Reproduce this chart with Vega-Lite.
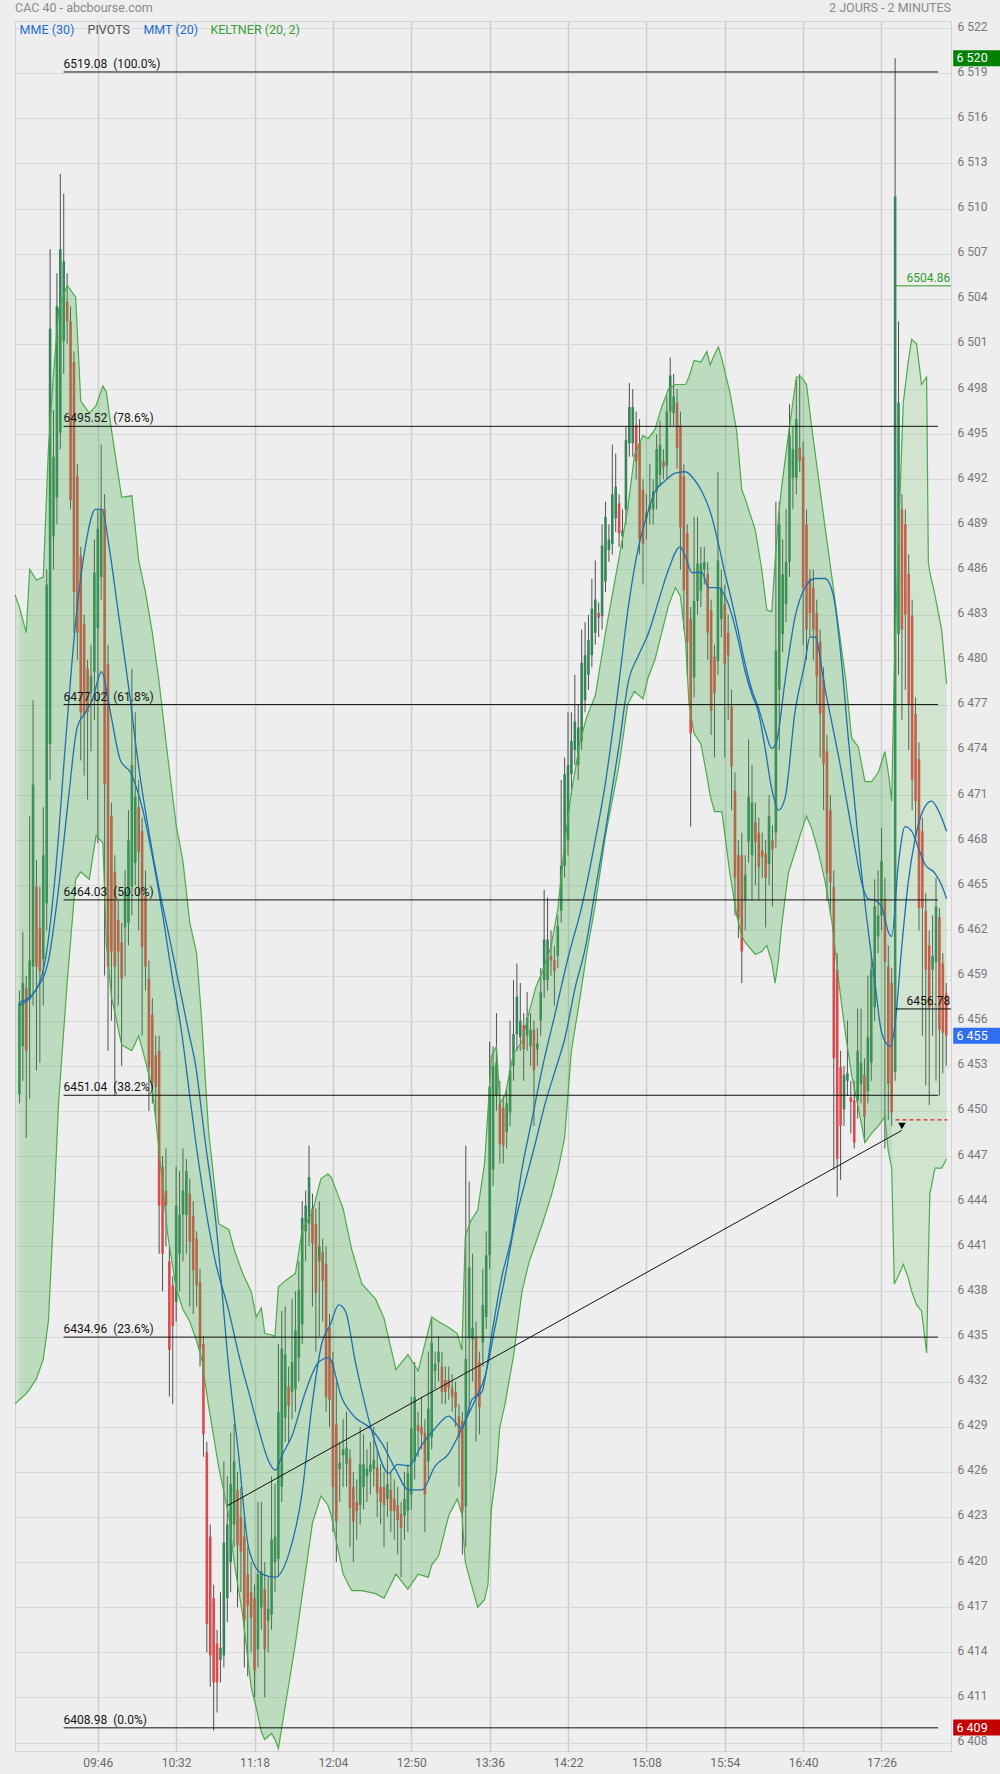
{
"$schema": "https://vega.github.io/schema/vega-lite/v6.json",
"width": 936, "height": 1730,
"autosize": {"type": "none"},
"padding": {"left": 15, "top": 21, "right": 49, "bottom": 23},
"background": "#eeeeee",
"config": {"view": {"stroke": "#d2d2d2", "strokeWidth": 1}, "font": "Roboto", "axis": {"title": null}, "scale": {"continuousPadding": 0}},
"datasets": {
"candles": [
{"t":0,"o":6451.1,"h":6458,"l":6450.5,"c":6457.2},
{"t":2,"o":6454.3,"h":6461.9,"l":6452,"c":6458.5},
{"t":4,"o":6458.2,"h":6459,"l":6448.2,"c":6454},
{"t":6,"o":6457.4,"h":6469.6,"l":6450.8,"c":6460},
{"t":8,"o":6459.6,"h":6477.3,"l":6457,"c":6471.7},
{"t":10,"o":6464.9,"h":6466.7,"l":6452.7,"c":6459.6},
{"t":12,"o":6462.2,"h":6464.9,"l":6453.2,"c":6459.3},
{"t":14,"o":6460.1,"h":6470.2,"l":6457,"c":6467},
{"t":16,"o":6463.8,"h":6486,"l":6462,"c":6485},
{"t":18,"o":6474.4,"h":6507.3,"l":6472,"c":6502},
{"t":20,"o":6488.2,"h":6496.6,"l":6486,"c":6493.5},
{"t":22,"o":6490.8,"h":6505.7,"l":6489,"c":6503.5},
{"t":24,"o":6495.1,"h":6512.3,"l":6494,"c":6507.3},
{"t":26,"o":6501.2,"h":6511,"l":6499,"c":6506.5},
{"t":28,"o":6503.8,"h":6505.7,"l":6501,"c":6502.5},
{"t":30,"o":6502.5,"h":6503.5,"l":6490,"c":6490.6},
{"t":32,"o":6499.8,"h":6500.5,"l":6481.8,"c":6484.5},
{"t":34,"o":6492.2,"h":6493,"l":6480,"c":6481.8},
{"t":36,"o":6486.9,"h":6487.5,"l":6473.3,"c":6476.5},
{"t":38,"o":6482.4,"h":6483,"l":6472.3,"c":6476.3},
{"t":40,"o":6479.4,"h":6480,"l":6470.7,"c":6476.5},
{"t":42,"o":6477.8,"h":6481,"l":6473.9,"c":6478.9},
{"t":44,"o":6479.2,"h":6488,"l":6476,"c":6485.8},
{"t":46,"o":6482.1,"h":6490,"l":6467.8,"c":6488.7},
{"t":48,"o":6485.5,"h":6494.3,"l":6484,"c":6490},
{"t":50,"o":6490,"h":6491,"l":6459,"c":6471.7},
{"t":52,"o":6479.7,"h":6481,"l":6454,"c":6459.6},
{"t":54,"o":6469.6,"h":6470.5,"l":6456,"c":6460.6},
{"t":56,"o":6465.9,"h":6467,"l":6451,"c":6459.6},
{"t":58,"o":6462.7,"h":6464,"l":6457,"c":6460.6},
{"t":60,"o":6461.2,"h":6462.5,"l":6453,"c":6458.8},
{"t":62,"o":6462.2,"h":6466,"l":6459,"c":6464.6},
{"t":64,"o":6462.5,"h":6470,"l":6461,"c":6468},
{"t":66,"o":6464.9,"h":6479.4,"l":6463,"c":6473},
{"t":68,"o":6466.5,"h":6476.5,"l":6465,"c":6470.9},
{"t":70,"o":6470.2,"h":6472,"l":6462,"c":6467.2},
{"t":72,"o":6468.6,"h":6469.5,"l":6455,"c":6460.9},
{"t":74,"o":6464.3,"h":6466,"l":6458,"c":6459.6},
{"t":76,"o":6458.8,"h":6460,"l":6450,"c":6452.9},
{"t":78,"o":6456.4,"h":6457.5,"l":6450.5,"c":6451.9},
{"t":80,"o":6453.7,"h":6455,"l":6449.5,"c":6451.6},
{"t":82,"o":6454,"h":6455,"l":6440.5,"c":6443.7},
{"t":84,"o":6446.3,"h":6447,"l":6438,"c":6440.5},
{"t":86,"o":6444.7,"h":6447.5,"l":6441,"c":6443.7},
{"t":88,"o":6440,"h":6441,"l":6431,"c":6434.1},
{"t":90,"o":6438.4,"h":6439,"l":6430.5,"c":6435.7},
{"t":92,"o":6437.3,"h":6446.3,"l":6436,"c":6443.7},
{"t":94,"o":6440.5,"h":6446,"l":6438,"c":6443.1},
{"t":96,"o":6443.1,"h":6447.5,"l":6440,"c":6444.7},
{"t":98,"o":6443.1,"h":6446.8,"l":6440.5,"c":6446},
{"t":100,"o":6444.5,"h":6445.5,"l":6437,"c":6441.3},
{"t":102,"o":6443,"h":6444,"l":6436.5,"c":6439.4},
{"t":104,"o":6441.5,"h":6442,"l":6437,"c":6438.4},
{"t":106,"o":6438.6,"h":6439.5,"l":6433,"c":6434.2},
{"t":108,"o":6434.5,"h":6435,"l":6427,"c":6428.5},
{"t":110,"o":6427.3,"h":6428,"l":6414,"c":6415.9},
{"t":112,"o":6421.7,"h":6422.5,"l":6411.7,"c":6413.8},
{"t":114,"o":6417.6,"h":6418.5,"l":6408.8,"c":6412},
{"t":116,"o":6414.6,"h":6415.5,"l":6410,"c":6412},
{"t":118,"o":6413.5,"h":6418,"l":6412,"c":6414.3},
{"t":120,"o":6413.8,"h":6426.7,"l":6413,"c":6421.3},
{"t":122,"o":6417.6,"h":6425.7,"l":6416,"c":6422.5},
{"t":124,"o":6420,"h":6428.6,"l":6418,"c":6425.2},
{"t":126,"o":6422.5,"h":6429.2,"l":6421,"c":6426.7},
{"t":128,"o":6424.8,"h":6426,"l":6417,"c":6421.1},
{"t":130,"o":6423,"h":6425,"l":6418,"c":6420.7},
{"t":132,"o":6421.7,"h":6423,"l":6413,"c":6416.1},
{"t":134,"o":6419.2,"h":6421,"l":6412.4,"c":6417.1},
{"t":136,"o":6418,"h":6420,"l":6414,"c":6416.3},
{"t":138,"o":6417.6,"h":6418.5,"l":6411,"c":6412.8},
{"t":140,"o":6414.2,"h":6424,"l":6413,"c":6419.2},
{"t":142,"o":6417,"h":6424,"l":6415.5,"c":6419.4},
{"t":144,"o":6418.2,"h":6420,"l":6411,"c":6414.2},
{"t":146,"o":6416.1,"h":6419,"l":6414,"c":6416.9},
{"t":148,"o":6416.5,"h":6425.7,"l":6415.5,"c":6421.5},
{"t":150,"o":6420,"h":6425.2,"l":6418,"c":6421.7},
{"t":152,"o":6420.2,"h":6434.5,"l":6419,"c":6430},
{"t":154,"o":6425,"h":6436.7,"l":6424,"c":6434.2},
{"t":156,"o":6429.6,"h":6437,"l":6428,"c":6433.8},
{"t":158,"o":6431.7,"h":6433,"l":6428,"c":6430.4},
{"t":160,"o":6431.3,"h":6437.5,"l":6429.5,"c":6433.3},
{"t":162,"o":6431.5,"h":6438,"l":6430,"c":6435.4},
{"t":164,"o":6433.6,"h":6440,"l":6432,"c":6438.1},
{"t":166,"o":6435.8,"h":6444,"l":6434.5,"c":6442.9},
{"t":168,"o":6442,"h":6444.7,"l":6440,"c":6443.7},
{"t":170,"o":6442.5,"h":6447.7,"l":6441,"c":6445.6},
{"t":172,"o":6443.5,"h":6444.5,"l":6437,"c":6441.2},
{"t":174,"o":6442.5,"h":6443.5,"l":6434,"c":6437.9},
{"t":176,"o":6440,"h":6444,"l":6435,"c":6441},
{"t":178,"o":6440.6,"h":6441.5,"l":6436,"c":6438.7},
{"t":180,"o":6439.8,"h":6441,"l":6430,"c":6431},
{"t":182,"o":6435.6,"h":6436.5,"l":6429,"c":6430.8},
{"t":184,"o":6433.3,"h":6434,"l":6422,"c":6425},
{"t":186,"o":6429.2,"h":6432,"l":6420,"c":6422.7},
{"t":188,"o":6426.2,"h":6428,"l":6424,"c":6426.6},
{"t":190,"o":6427.1,"h":6429.5,"l":6425,"c":6427.5},
{"t":192,"o":6426.5,"h":6430,"l":6425,"c":6427.6},
{"t":194,"o":6426.9,"h":6427.5,"l":6421,"c":6423.6},
{"t":196,"o":6425,"h":6426,"l":6420,"c":6422.7},
{"t":198,"o":6424,"h":6425.5,"l":6421.5,"c":6423.4},
{"t":200,"o":6423.8,"h":6429,"l":6422.5,"c":6426.5},
{"t":202,"o":6425,"h":6428.5,"l":6423.5,"c":6426.5},
{"t":204,"o":6425.7,"h":6427.5,"l":6424,"c":6426.2},
{"t":206,"o":6426,"h":6428,"l":6424.5,"c":6426.5},
{"t":208,"o":6426.2,"h":6429,"l":6425,"c":6426.8},
{"t":210,"o":6426.3,"h":6427.5,"l":6423,"c":6424.6},
{"t":212,"o":6425,"h":6426.5,"l":6422.5,"c":6424},
{"t":214,"o":6425,"h":6426,"l":6421,"c":6423.8},
{"t":216,"o":6424.2,"h":6428,"l":6423,"c":6425.2},
{"t":218,"o":6424.8,"h":6426,"l":6422,"c":6423.4},
{"t":220,"o":6424.2,"h":6425.5,"l":6421.5,"c":6423.4},
{"t":222,"o":6423.8,"h":6425,"l":6420.5,"c":6422.8},
{"t":224,"o":6423.2,"h":6424,"l":6419,"c":6422.3},
{"t":226,"o":6423.1,"h":6426,"l":6421.5,"c":6424.2},
{"t":228,"o":6423.4,"h":6426.5,"l":6422,"c":6425.9},
{"t":230,"o":6424.5,"h":6431,"l":6423.5,"c":6428.9},
{"t":232,"o":6426.7,"h":6433.3,"l":6425.5,"c":6431},
{"t":234,"o":6429.1,"h":6430,"l":6427,"c":6428.7},
{"t":236,"o":6429,"h":6431,"l":6427.5,"c":6428.5},
{"t":238,"o":6428.6,"h":6429.5,"l":6422,"c":6424.5},
{"t":240,"o":6426.7,"h":6434,"l":6425.5,"c":6430.2},
{"t":242,"o":6428.3,"h":6436.3,"l":6427.5,"c":6434.6},
{"t":244,"o":6432.7,"h":6434,"l":6431.5,"c":6433.2},
{"t":246,"o":6433.3,"h":6435,"l":6432,"c":6434},
{"t":248,"o":6433,"h":6434,"l":6430.5,"c":6431.3},
{"t":250,"o":6432.1,"h":6433,"l":6430.5,"c":6431.3},
{"t":252,"o":6432.1,"h":6433,"l":6430.8,"c":6431.6},
{"t":254,"o":6431.6,"h":6432.5,"l":6430,"c":6431},
{"t":256,"o":6431.3,"h":6432,"l":6429,"c":6430.3},
{"t":258,"o":6429.7,"h":6430.5,"l":6425,"c":6428.3},
{"t":260,"o":6429.4,"h":6430,"l":6420.5,"c":6423.4},
{"t":262,"o":6423.7,"h":6447.7,"l":6421,"c":6433.5},
{"t":264,"o":6434.9,"h":6445.3,"l":6430,"c":6439.6},
{"t":266,"o":6434.8,"h":6440.5,"l":6432,"c":6435.6},
{"t":268,"o":6434.9,"h":6436,"l":6428,"c":6431},
{"t":270,"o":6433.3,"h":6434,"l":6428.5,"c":6430.3},
{"t":272,"o":6434.6,"h":6439.5,"l":6433,"c":6437.1},
{"t":274,"o":6436.3,"h":6442,"l":6435.5,"c":6440.4},
{"t":276,"o":6440.4,"h":6454.6,"l":6439.5,"c":6451.6},
{"t":278,"o":6446.1,"h":6454.3,"l":6445,"c":6453},
{"t":280,"o":6451,"h":6456.5,"l":6450,"c":6453.2},
{"t":282,"o":6450.5,"h":6452,"l":6446.5,"c":6447.8},
{"t":284,"o":6450.2,"h":6451,"l":6446.5,"c":6447.7},
{"t":286,"o":6448.6,"h":6451.5,"l":6447.5,"c":6450.5},
{"t":288,"o":6449.9,"h":6456,"l":6449,"c":6452.7},
{"t":290,"o":6453,"h":6458.7,"l":6452,"c":6455.1},
{"t":292,"o":6455.1,"h":6459.8,"l":6454,"c":6457.6},
{"t":294,"o":6454.9,"h":6458.5,"l":6454,"c":6456},
{"t":296,"o":6455.7,"h":6456.5,"l":6452,"c":6454.1},
{"t":298,"o":6455,"h":6457.9,"l":6454,"c":6456.2},
{"t":300,"o":6454.3,"h":6456.5,"l":6453,"c":6455.4},
{"t":302,"o":6455.4,"h":6456,"l":6449,"c":6452.7},
{"t":304,"o":6454.1,"h":6455.5,"l":6453,"c":6454.5},
{"t":306,"o":6456,"h":6459.5,"l":6455,"c":6457.9},
{"t":308,"o":6458.7,"h":6464.7,"l":6457.5,"c":6461.4},
{"t":310,"o":6458.7,"h":6464.2,"l":6458,"c":6461.4},
{"t":312,"o":6460.3,"h":6462,"l":6459,"c":6460},
{"t":314,"o":6460,"h":6461,"l":6457,"c":6459.3},
{"t":316,"o":6460.3,"h":6463,"l":6459.5,"c":6462.3},
{"t":318,"o":6463.3,"h":6472,"l":6462.5,"c":6466.3},
{"t":320,"o":6466.3,"h":6473.5,"l":6465.5,"c":6472.4},
{"t":322,"o":6468,"h":6476.5,"l":6467,"c":6473},
{"t":324,"o":6472.4,"h":6476.5,"l":6471,"c":6474.6},
{"t":326,"o":6474,"h":6479,"l":6473,"c":6475.9},
{"t":328,"o":6473,"h":6477,"l":6472,"c":6475.5},
{"t":330,"o":6474.6,"h":6482,"l":6474,"c":6479.8},
{"t":332,"o":6477.3,"h":6482.5,"l":6476.5,"c":6480.3},
{"t":334,"o":6479,"h":6483,"l":6478,"c":6481.3},
{"t":336,"o":6480.3,"h":6485.4,"l":6479.5,"c":6483.4},
{"t":338,"o":6481.8,"h":6486.6,"l":6481,"c":6484},
{"t":340,"o":6483.1,"h":6483.8,"l":6481.5,"c":6482.8},
{"t":342,"o":6482.9,"h":6489,"l":6482,"c":6487.6},
{"t":344,"o":6485.2,"h":6490.5,"l":6484.5,"c":6489.5},
{"t":346,"o":6487.3,"h":6489,"l":6486.5,"c":6488},
{"t":348,"o":6487.7,"h":6494.3,"l":6487,"c":6491},
{"t":350,"o":6489.4,"h":6493.7,"l":6488.5,"c":6491.5},
{"t":352,"o":6490.4,"h":6491,"l":6487.5,"c":6488.4},
{"t":354,"o":6488.2,"h":6490,"l":6487.4,"c":6488.6},
{"t":356,"o":6490,"h":6495.5,"l":6489,"c":6494.6},
{"t":358,"o":6494.4,"h":6498.4,"l":6493.5,"c":6496.8},
{"t":360,"o":6494.4,"h":6498,"l":6493.5,"c":6496.8},
{"t":362,"o":6495.6,"h":6496.5,"l":6492,"c":6493.2},
{"t":364,"o":6494.4,"h":6496,"l":6487,"c":6488},
{"t":366,"o":6491.3,"h":6492,"l":6485,"c":6487.7},
{"t":368,"o":6489.4,"h":6491,"l":6488,"c":6489.8},
{"t":370,"o":6490,"h":6493,"l":6489,"c":6490.3},
{"t":372,"o":6490,"h":6492,"l":6489,"c":6491.2},
{"t":374,"o":6491.2,"h":6495,"l":6490,"c":6494},
{"t":376,"o":6492.3,"h":6495.9,"l":6491.5,"c":6494.3},
{"t":378,"o":6493.2,"h":6494,"l":6492,"c":6492.8},
{"t":380,"o":6492.9,"h":6497.5,"l":6492,"c":6496.5},
{"t":382,"o":6496.5,"h":6500.1,"l":6495.5,"c":6498.9},
{"t":384,"o":6496.4,"h":6499,"l":6495.5,"c":6497.5},
{"t":386,"o":6497.1,"h":6498,"l":6492.7,"c":6494.1},
{"t":388,"o":6495.6,"h":6496.5,"l":6486,"c":6488.8},
{"t":390,"o":6492.2,"h":6493,"l":6482,"c":6484.6},
{"t":392,"o":6488.4,"h":6489,"l":6479,"c":6481.2},
{"t":394,"o":6482.7,"h":6483.5,"l":6468.9,"c":6475.1},
{"t":396,"o":6478.8,"h":6489.5,"l":6477.5,"c":6483.9},
{"t":398,"o":6483.9,"h":6489.5,"l":6483,"c":6486.4},
{"t":400,"o":6484.6,"h":6487.5,"l":6483.5,"c":6486.4},
{"t":402,"o":6486,"h":6487.5,"l":6485,"c":6486.5},
{"t":404,"o":6485.7,"h":6486.5,"l":6480,"c":6481.8},
{"t":406,"o":6483.3,"h":6484,"l":6475,"c":6476.6},
{"t":408,"o":6480.2,"h":6481,"l":6473.5,"c":6477.8},
{"t":410,"o":6479.9,"h":6492.5,"l":6479,"c":6486.6},
{"t":412,"o":6482.7,"h":6486,"l":6481.5,"c":6484.8},
{"t":414,"o":6483.7,"h":6485,"l":6473.5,"c":6479.7},
{"t":416,"o":6481.8,"h":6483,"l":6476,"c":6480.3},
{"t":418,"o":6476.9,"h":6478,"l":6470,"c":6472.9},
{"t":420,"o":6471.3,"h":6472.5,"l":6463,"c":6465.5},
{"t":422,"o":6467,"h":6468,"l":6461.5,"c":6462.8},
{"t":424,"o":6467,"h":6468.5,"l":6458.5,"c":6460.6},
{"t":426,"o":6464,"h":6467,"l":6462,"c":6465.7},
{"t":428,"o":6467.9,"h":6474.7,"l":6466.5,"c":6470.9},
{"t":430,"o":6467,"h":6473,"l":6464,"c":6470.5},
{"t":432,"o":6469.2,"h":6470.5,"l":6465,"c":6467.9},
{"t":434,"o":6468.5,"h":6469.5,"l":6464,"c":6466.2},
{"t":436,"o":6467.3,"h":6468.5,"l":6465.5,"c":6466.9},
{"t":438,"o":6467.1,"h":6468,"l":6462.2,"c":6465.5},
{"t":440,"o":6466.4,"h":6471,"l":6465,"c":6469.6},
{"t":442,"o":6468,"h":6469,"l":6463.6,"c":6467.4},
{"t":444,"o":6468.5,"h":6490.5,"l":6467.5,"c":6480.6},
{"t":446,"o":6478,"h":6490.5,"l":6474,"c":6489},
{"t":448,"o":6481.7,"h":6488,"l":6480.5,"c":6485.7},
{"t":450,"o":6483.7,"h":6490,"l":6482.5,"c":6486.5},
{"t":452,"o":6486.5,"h":6497,"l":6485.5,"c":6494.9},
{"t":454,"o":6492.1,"h":6495.5,"l":6490,"c":6494},
{"t":456,"o":6492.1,"h":6498.6,"l":6491,"c":6496},
{"t":458,"o":6494.1,"h":6499,"l":6492.5,"c":6493.2},
{"t":460,"o":6493.5,"h":6494.5,"l":6481,"c":6484.8},
{"t":462,"o":6489,"h":6490,"l":6480,"c":6482},
{"t":464,"o":6485.4,"h":6486,"l":6481.5,"c":6483.1},
{"t":466,"o":6484.8,"h":6486,"l":6480,"c":6482},
{"t":468,"o":6483.1,"h":6484,"l":6477,"c":6478.9},
{"t":470,"o":6481.2,"h":6482,"l":6473.5,"c":6476.4},
{"t":472,"o":6478.7,"h":6479.5,"l":6470,"c":6473.1},
{"t":474,"o":6473.9,"h":6475,"l":6464,"c":6465.8},
{"t":476,"o":6470,"h":6471,"l":6463,"c":6465.2},
{"t":478,"o":6464.9,"h":6466,"l":6446.1,"c":6453.5},
{"t":480,"o":6459.4,"h":6460.5,"l":6444.3,"c":6446.8},
{"t":482,"o":6452.9,"h":6454,"l":6445.4,"c":6449},
{"t":484,"o":6450.1,"h":6453,"l":6449,"c":6452.4},
{"t":486,"o":6452,"h":6456,"l":6451,"c":6452.5},
{"t":488,"o":6450.9,"h":6452,"l":6448.5,"c":6450.6},
{"t":490,"o":6450.7,"h":6452,"l":6447.5,"c":6447.9},
{"t":492,"o":6450.7,"h":6456.8,"l":6449.5,"c":6454},
{"t":494,"o":6451.8,"h":6456.8,"l":6450.5,"c":6453.2},
{"t":496,"o":6452.4,"h":6453.5,"l":6447.9,"c":6449.6},
{"t":498,"o":6451.3,"h":6459,"l":6450.5,"c":6454.9},
{"t":500,"o":6453.2,"h":6460.5,"l":6452,"c":6459.4},
{"t":502,"o":6456.9,"h":6465.4,"l":6456,"c":6463.6},
{"t":504,"o":6461.6,"h":6466,"l":6460.5,"c":6463},
{"t":506,"o":6463,"h":6468.8,"l":6462,"c":6466.6},
{"t":508,"o":6464.1,"h":6465.5,"l":6447.5,"c":6459.9},
{"t":510,"o":6459.6,"h":6461,"l":6449.4,"c":6451.8},
{"t":512,"o":6458.5,"h":6459.5,"l":6449,"c":6449.9},
{"t":514,"o":6452.6,"h":6520,"l":6452,"c":6510.8},
{"t":516,"o":6481.7,"h":6502.5,"l":6479,"c":6497.1},
{"t":518,"o":6490,"h":6491,"l":6476,"c":6482},
{"t":520,"o":6489,"h":6490,"l":6478,"c":6483},
{"t":522,"o":6485.7,"h":6487,"l":6474,"c":6477},
{"t":524,"o":6482.9,"h":6484,"l":6470,"c":6472},
{"t":526,"o":6476.4,"h":6477.5,"l":6468,"c":6470.6},
{"t":528,"o":6473.4,"h":6474.5,"l":6462,"c":6463.5},
{"t":530,"o":6468.6,"h":6469.5,"l":6455,"c":6463.5},
{"t":532,"o":6463.3,"h":6464.5,"l":6451.7,"c":6459.4},
{"t":534,"o":6461,"h":6462,"l":6450.4,"c":6456.9},
{"t":536,"o":6459.4,"h":6463,"l":6455,"c":6460.3},
{"t":538,"o":6459.9,"h":6465.5,"l":6452,"c":6463.6},
{"t":540,"o":6462.9,"h":6463.5,"l":6451,"c":6455.4},
{"t":542,"o":6459.8,"h":6460.5,"l":6452.5,"c":6455.2},
{"t":544,"o":6457.8,"h":6458.5,"l":6453,"c":6455}
],
"band": [
{"t":-2.6,"up":6484.3,"lo":6430.5,"seg":"a"},{"t":0,"up":6483.5,"lo":6430.8,"seg":"a"},
{"t":0,"up":6483.5,"lo":6430.8,"seg":"d"},{"t":4,"up":6481.8,"lo":6431.2,"seg":"d"},{"t":6,"up":6486,"lo":6431.5,"seg":"d"},{"t":10,"up":6485.3,"lo":6432.2,"seg":"d"},{"t":14,"up":6485.5,"lo":6433.5,"seg":"d"},{"t":17,"up":6494,"lo":6436,"seg":"d"},{"t":20,"up":6499,"lo":6443,"seg":"d"},{"t":23,"up":6503.3,"lo":6450.6,"seg":"d"},{"t":28,"up":6504.9,"lo":6458.5,"seg":"d"},{"t":33,"up":6504.1,"lo":6465.4,"seg":"d"},{"t":36,"up":6497.2,"lo":6465.9,"seg":"d"},{"t":41,"up":6496.4,"lo":6465.4,"seg":"d"},{"t":45,"up":6496.9,"lo":6468.3,"seg":"d"},{"t":49,"up":6498.2,"lo":6467.8,"seg":"d"},{"t":51,"up":6497.8,"lo":6461.2,"seg":"d"},{"t":54,"up":6495.3,"lo":6457.6,"seg":"d"},{"t":60,"up":6490.8,"lo":6454.4,"seg":"d"},{"t":66,"up":6490.9,"lo":6454,"seg":"d"},{"t":70,"up":6486.6,"lo":6455,"seg":"d"},{"t":74,"up":6484.5,"lo":6453.3,"seg":"d"},{"t":78,"up":6481.8,"lo":6451.5,"seg":"d"},{"t":82,"up":6478.5,"lo":6447.3,"seg":"d"},{"t":87,"up":6473.6,"lo":6441.8,"seg":"d"},{"t":92,"up":6469,"lo":6438.2,"seg":"d"},{"t":96,"up":6466.6,"lo":6436.8,"seg":"d"},{"t":100,"up":6462.5,"lo":6436,"seg":"d"},{"t":104,"up":6460.5,"lo":6434.7,"seg":"d"},{"t":107,"up":6456,"lo":6433.5,"seg":"d"},{"t":111,"up":6448.7,"lo":6430.4,"seg":"d"},{"t":117,"up":6442.5,"lo":6426.3,"seg":"d"},{"t":123,"up":6442.1,"lo":6423,"seg":"d"},{"t":126,"up":6440.8,"lo":6420,"seg":"d"},{"t":131,"up":6439.2,"lo":6416.5,"seg":"d"},{"t":136,"up":6438,"lo":6411.7,"seg":"d"},{"t":139,"up":6436.3,"lo":6410.3,"seg":"d"},{"t":142,"up":6436.9,"lo":6408.7,"seg":"d"},{"t":144,"up":6435.2,"lo":6408.2,"seg":"d"},{"t":148,"up":6435.1,"lo":6408.6,"seg":"d"},{"t":150,"up":6435,"lo":6408.2,"seg":"d"},{"t":152,"up":6438.3,"lo":6407.6,"seg":"d"},{"t":156,"up":6438.7,"lo":6410.4,"seg":"d"},{"t":162,"up":6439.2,"lo":6414.6,"seg":"d"},{"t":166,"up":6442.1,"lo":6417.8,"seg":"d"},{"t":172,"up":6443.3,"lo":6422.6,"seg":"d"},{"t":177,"up":6445.5,"lo":6424.4,"seg":"d"},{"t":181,"up":6445.8,"lo":6423.8,"seg":"d"},{"t":183,"up":6445.6,"lo":6423.1,"seg":"d"},{"t":186,"up":6444.7,"lo":6421.4,"seg":"d"},{"t":190,"up":6443.5,"lo":6419.2,"seg":"d"},{"t":195,"up":6440.8,"lo":6418.1,"seg":"d"},{"t":201,"up":6438.5,"lo":6418.1,"seg":"d"},{"t":209,"up":6437.5,"lo":6417.9,"seg":"d"},{"t":214,"up":6436.2,"lo":6417.6,"seg":"d"},{"t":221,"up":6432.8,"lo":6419.2,"seg":"d"},{"t":228,"up":6433.8,"lo":6418.2,"seg":"d"},{"t":234,"up":6432.7,"lo":6419.2,"seg":"d"},{"t":240,"up":6435.4,"lo":6419,"seg":"d"},{"t":242,"up":6436.3,"lo":6419.8,"seg":"d"},{"t":246,"up":6436,"lo":6420.4,"seg":"d"},{"t":252,"up":6435.6,"lo":6423.1,"seg":"d"},{"t":257,"up":6435.2,"lo":6424.2,"seg":"d"},{"t":259.7,"up":6434.1,"lo":6423.2,"seg":"d"},{"t":261.7,"up":6441.7,"lo":6420,"seg":"d"},{"t":265,"up":6442.7,"lo":6418.6,"seg":"d"},{"t":269,"up":6443.4,"lo":6417,"seg":"d"},{"t":273,"up":6446.5,"lo":6417.5,"seg":"d"},{"t":275,"up":6450,"lo":6418.5,"seg":"d"},{"t":277,"up":6453.6,"lo":6423.5,"seg":"d"},{"t":280,"up":6454.3,"lo":6426,"seg":"d"},{"t":282,"up":6450.5,"lo":6429,"seg":"d"},{"t":285,"up":6451,"lo":6430.5,"seg":"d"},{"t":290,"up":6453.8,"lo":6433.7,"seg":"d"},{"t":295,"up":6454.6,"lo":6438,"seg":"d"},{"t":299,"up":6456.5,"lo":6439.9,"seg":"d"},{"t":303,"up":6458.2,"lo":6441.2,"seg":"d"},{"t":307,"up":6459.3,"lo":6442.5,"seg":"d"},{"t":312,"up":6460.9,"lo":6444.3,"seg":"d"},{"t":316,"up":6463.4,"lo":6446,"seg":"d"},{"t":320,"up":6467.8,"lo":6448.2,"seg":"d"},{"t":324,"up":6471.2,"lo":6454,"seg":"d"},{"t":329,"up":6474.5,"lo":6457.5,"seg":"d"},{"t":333,"up":6476.2,"lo":6460.5,"seg":"d"},{"t":338,"up":6477.6,"lo":6463.7,"seg":"d"},{"t":344,"up":6481.8,"lo":6468.3,"seg":"d"},{"t":352,"up":6486.8,"lo":6473,"seg":"d"},{"t":357,"up":6490,"lo":6477,"seg":"d"},{"t":361,"up":6493.6,"lo":6477.9,"seg":"d"},{"t":366,"up":6494.9,"lo":6477.4,"seg":"d"},{"t":369,"up":6494.7,"lo":6478.8,"seg":"d"},{"t":373,"up":6495.3,"lo":6480,"seg":"d"},{"t":377,"up":6496.8,"lo":6481.8,"seg":"d"},{"t":381,"up":6498,"lo":6483.6,"seg":"d"},{"t":385,"up":6498.3,"lo":6484.8,"seg":"d"},{"t":388,"up":6498.3,"lo":6484.2,"seg":"d"},{"t":391,"up":6498.3,"lo":6481.2,"seg":"d"},{"t":393,"up":6498.8,"lo":6477.1,"seg":"d"},{"t":396,"up":6499.9,"lo":6475.1,"seg":"d"},{"t":400,"up":6499.8,"lo":6474.4,"seg":"d"},{"t":403.5,"up":6500.5,"lo":6472.3,"seg":"d"},{"t":405.4,"up":6499.6,"lo":6471,"seg":"d"},{"t":408,"up":6500.3,"lo":6469.9,"seg":"d"},{"t":410.3,"up":6500.8,"lo":6469.9,"seg":"d"},{"t":412.3,"up":6500,"lo":6469.9,"seg":"d"},{"t":417,"up":6497.8,"lo":6465.8,"seg":"d"},{"t":421,"up":6495.2,"lo":6463,"seg":"d"},{"t":424,"up":6491.3,"lo":6461.6,"seg":"d"},{"t":426,"up":6490.7,"lo":6461.2,"seg":"d"},{"t":432,"up":6488.6,"lo":6460.4,"seg":"d"},{"t":435.7,"up":6486,"lo":6460.6,"seg":"d"},{"t":438.7,"up":6483.3,"lo":6461,"seg":"d"},{"t":441.6,"up":6483.2,"lo":6459.9,"seg":"d"},{"t":443.5,"up":6486.5,"lo":6458.5,"seg":"d"},{"t":445.5,"up":6489.5,"lo":6460,"seg":"d"},{"t":447.4,"up":6491.5,"lo":6462.3,"seg":"d"},{"t":451.3,"up":6494.9,"lo":6465.8,"seg":"d"},{"t":456,"up":6498.8,"lo":6467.5,"seg":"d"},{"t":459,"up":6498.8,"lo":6468.6,"seg":"d"},{"t":462,"up":6498.3,"lo":6469.6,"seg":"d"},{"t":465,"up":6495.5,"lo":6468.8,"seg":"d"},{"t":469,"up":6492.1,"lo":6467.2,"seg":"d"},{"t":473,"up":6488.7,"lo":6465.2,"seg":"d"},{"t":477,"up":6485.4,"lo":6462.5,"seg":"d"},{"t":481,"up":6482,"lo":6458.5,"seg":"d"},{"t":485,"up":6478.7,"lo":6455,"seg":"d"},{"t":488.5,"up":6474.8,"lo":6452.4,"seg":"d"},{"t":492.4,"up":6474.2,"lo":6450.2,"seg":"d"},{"t":496.3,"up":6471.9,"lo":6447.9,"seg":"d"},{"t":500.2,"up":6471.9,"lo":6448.5,"seg":"d"},{"t":504.1,"up":6472.5,"lo":6449,"seg":"d"},{"t":508,"up":6473.9,"lo":6449.6,"seg":"d"},{"t":510,"up":6472.5,"lo":6447.3,"seg":"d"},{"t":512,"up":6470.6,"lo":6446.2,"seg":"d"},
{"t":512,"up":6470.6,"lo":6446.2,"seg":"b"},{"t":513.5,"up":6479.2,"lo":6438.5,"seg":"b"},{"t":515.8,"up":6487.6,"lo":6439,"seg":"b"},{"t":518.8,"up":6497.1,"lo":6439.8,"seg":"b"},{"t":521.7,"up":6499.8,"lo":6438.9,"seg":"b"},{"t":523.7,"up":6501.3,"lo":6438,"seg":"b"},{"t":526.6,"up":6501,"lo":6437.1,"seg":"b"},{"t":529.5,"up":6498.3,"lo":6436.7,"seg":"b"},{"t":532.5,"up":6498.8,"lo":6433.9,"seg":"b"},{"t":533.5,"up":6486.5,"lo":6440,"seg":"b"},{"t":534.4,"up":6485.8,"lo":6444.5,"seg":"b"},{"t":537.4,"up":6484.3,"lo":6446.2,"seg":"b"},{"t":541.3,"up":6482,"lo":6446.2,"seg":"b"},{"t":544.2,"up":6478.4,"lo":6446.8,"seg":"b"}
],
"ma": [
{"t":0,"v":6457.2,"s":"MME"},{"t":9.4,"v":6458,"s":"MME"},{"t":15.3,"v":6460.1,"s":"MME"},{"t":21.2,"v":6465.9,"s":"MME"},{"t":27,"v":6474.4,"s":"MME"},{"t":32.9,"v":6482.4,"s":"MME"},{"t":38.8,"v":6487.6,"s":"MME"},{"t":44.6,"v":6490,"s":"MME"},{"t":48.5,"v":6490,"s":"MME"},{"t":52.5,"v":6487.6,"s":"MME"},{"t":58.3,"v":6482.9,"s":"MME"},{"t":64.2,"v":6478.1,"s":"MME"},{"t":70.1,"v":6472.8,"s":"MME"},{"t":75.9,"v":6468.6,"s":"MME"},{"t":81.8,"v":6464.9,"s":"MME"},{"t":87.7,"v":6461.7,"s":"MME"},{"t":93.5,"v":6458.5,"s":"MME"},{"t":99.4,"v":6455.2,"s":"MME"},{"t":103.3,"v":6453.1,"s":"MME"},{"t":109,"v":6448,"s":"MME"},{"t":115,"v":6442.9,"s":"MME"},{"t":122.9,"v":6432.9,"s":"MME"},{"t":128.7,"v":6427.1,"s":"MME"},{"t":134.6,"v":6420.9,"s":"MME"},{"t":142.4,"v":6419.2,"s":"MME"},{"t":150.2,"v":6419,"s":"MME"},{"t":158,"v":6420.5,"s":"MME"},{"t":165.9,"v":6424.6,"s":"MME"},{"t":171.7,"v":6430.4,"s":"MME"},{"t":177.6,"v":6434.6,"s":"MME"},{"t":182.5,"v":6435.8,"s":"MME"},{"t":187.4,"v":6437.1,"s":"MME"},{"t":191.3,"v":6436.7,"s":"MME"},{"t":197.2,"v":6433.3,"s":"MME"},{"t":203,"v":6430.4,"s":"MME"},{"t":208.9,"v":6427.9,"s":"MME"},{"t":216.7,"v":6425.9,"s":"MME"},{"t":222,"v":6426.5,"s":"MME"},{"t":228.4,"v":6426.4,"s":"MME"},{"t":236.2,"v":6427.8,"s":"MME"},{"t":244.1,"v":6428.9,"s":"MME"},{"t":251.9,"v":6429.7,"s":"MME"},{"t":259.7,"v":6428.9,"s":"MME"},{"t":265.6,"v":6430.8,"s":"MME"},{"t":271.4,"v":6431.3,"s":"MME"},{"t":277.3,"v":6435.2,"s":"MME"},{"t":283.2,"v":6439,"s":"MME"},{"t":289,"v":6441.7,"s":"MME"},{"t":294.9,"v":6446.1,"s":"MME"},{"t":300.8,"v":6449.4,"s":"MME"},{"t":306.6,"v":6452.7,"s":"MME"},{"t":314.5,"v":6456.5,"s":"MME"},{"t":322.3,"v":6460.3,"s":"MME"},{"t":330.1,"v":6463.6,"s":"MME"},{"t":338,"v":6468,"s":"MME"},{"t":343.8,"v":6471.7,"s":"MME"},{"t":351.7,"v":6478.3,"s":"MME"},{"t":357.5,"v":6483.6,"s":"MME"},{"t":363.4,"v":6487.5,"s":"MME"},{"t":367.3,"v":6489.2,"s":"MME"},{"t":373.2,"v":6491.2,"s":"MME"},{"t":379,"v":6491.9,"s":"MME"},{"t":384.9,"v":6492.4,"s":"MME"},{"t":390.8,"v":6492.5,"s":"MME"},{"t":396.6,"v":6491.9,"s":"MME"},{"t":400.5,"v":6491.2,"s":"MME"},{"t":406.4,"v":6489.5,"s":"MME"},{"t":410.3,"v":6487.7,"s":"MME"},{"t":414.2,"v":6485.7,"s":"MME"},{"t":418.1,"v":6483.9,"s":"MME"},{"t":422.1,"v":6481.8,"s":"MME"},{"t":426,"v":6479.7,"s":"MME"},{"t":429.9,"v":6478,"s":"MME"},{"t":433.8,"v":6476.8,"s":"MME"},{"t":437.7,"v":6475.3,"s":"MME"},{"t":441.6,"v":6474.1,"s":"MME"},{"t":444.5,"v":6474.6,"s":"MME"},{"t":449.4,"v":6478.6,"s":"MME"},{"t":455.2,"v":6482.8,"s":"MME"},{"t":461.1,"v":6484.8,"s":"MME"},{"t":467,"v":6485.4,"s":"MME"},{"t":472.8,"v":6485.4,"s":"MME"},{"t":477.7,"v":6484.3,"s":"MME"},{"t":482.6,"v":6479.8,"s":"MME"},{"t":486.5,"v":6474.8,"s":"MME"},{"t":490.4,"v":6470.3,"s":"MME"},{"t":494.3,"v":6465.8,"s":"MME"},{"t":498.3,"v":6461.9,"s":"MME"},{"t":502.2,"v":6458.5,"s":"MME"},{"t":506.1,"v":6455.2,"s":"MME"},{"t":511,"v":6454.3,"s":"MME"},{"t":513.9,"v":6455.7,"s":"MME"},{"t":517.8,"v":6460.8,"s":"MME"},{"t":521.7,"v":6465.2,"s":"MME"},{"t":525.6,"v":6468,"s":"MME"},{"t":530.5,"v":6470,"s":"MME"},{"t":535.4,"v":6470.6,"s":"MME"},{"t":539.3,"v":6470,"s":"MME"},{"t":544.2,"v":6468.6,"s":"MME"},
{"t":0,"v":6457,"s":"MMT"},{"t":9.4,"v":6458,"s":"MMT"},{"t":17,"v":6460,"s":"MMT"},{"t":23.1,"v":6464.9,"s":"MMT"},{"t":29,"v":6471,"s":"MMT"},{"t":33.9,"v":6475.5,"s":"MMT"},{"t":38.8,"v":6476.5,"s":"MMT"},{"t":42.7,"v":6477.3,"s":"MMT"},{"t":48.2,"v":6479.2,"s":"MMT"},{"t":53.4,"v":6476.5,"s":"MMT"},{"t":59.3,"v":6473.3,"s":"MMT"},{"t":65.2,"v":6472.5,"s":"MMT"},{"t":72,"v":6470.2,"s":"MMT"},{"t":77.9,"v":6467,"s":"MMT"},{"t":83.7,"v":6463.3,"s":"MMT"},{"t":89.6,"v":6459,"s":"MMT"},{"t":95.5,"v":6455,"s":"MMT"},{"t":99.4,"v":6451.5,"s":"MMT"},{"t":103.3,"v":6448.1,"s":"MMT"},{"t":115,"v":6440,"s":"MMT"},{"t":122.9,"v":6436.7,"s":"MMT"},{"t":128.7,"v":6433.8,"s":"MMT"},{"t":134.6,"v":6431.3,"s":"MMT"},{"t":140.5,"v":6428.8,"s":"MMT"},{"t":146.3,"v":6426.7,"s":"MMT"},{"t":150.2,"v":6426.1,"s":"MMT"},{"t":154.1,"v":6427.1,"s":"MMT"},{"t":160,"v":6428.4,"s":"MMT"},{"t":167.8,"v":6431.3,"s":"MMT"},{"t":175.7,"v":6433.3,"s":"MMT"},{"t":181.5,"v":6433.6,"s":"MMT"},{"t":189.3,"v":6430.9,"s":"MMT"},{"t":197.2,"v":6429.6,"s":"MMT"},{"t":205,"v":6429,"s":"MMT"},{"t":212.8,"v":6427.9,"s":"MMT"},{"t":220.6,"v":6426.2,"s":"MMT"},{"t":228.4,"v":6424.8,"s":"MMT"},{"t":236.2,"v":6424.8,"s":"MMT"},{"t":244.1,"v":6426.4,"s":"MMT"},{"t":251.9,"v":6427.2,"s":"MMT"},{"t":259.7,"v":6428.9,"s":"MMT"},{"t":267.5,"v":6430.8,"s":"MMT"},{"t":273.4,"v":6432.4,"s":"MMT"},{"t":279.3,"v":6435.7,"s":"MMT"},{"t":285.1,"v":6439,"s":"MMT"},{"t":291,"v":6442.6,"s":"MMT"},{"t":296.9,"v":6445.3,"s":"MMT"},{"t":302.7,"v":6447.8,"s":"MMT"},{"t":308.6,"v":6450.5,"s":"MMT"},{"t":314.5,"v":6452.7,"s":"MMT"},{"t":320.3,"v":6454.9,"s":"MMT"},{"t":326.2,"v":6458.2,"s":"MMT"},{"t":332.1,"v":6460.8,"s":"MMT"},{"t":338,"v":6464.7,"s":"MMT"},{"t":343.8,"v":6468.5,"s":"MMT"},{"t":351.7,"v":6474.1,"s":"MMT"},{"t":357.5,"v":6478.6,"s":"MMT"},{"t":363.4,"v":6480.3,"s":"MMT"},{"t":369.3,"v":6481.8,"s":"MMT"},{"t":375.1,"v":6483.9,"s":"MMT"},{"t":381,"v":6486,"s":"MMT"},{"t":387.8,"v":6487.5,"s":"MMT"},{"t":390.8,"v":6486.9,"s":"MMT"},{"t":394.7,"v":6485.8,"s":"MMT"},{"t":400.5,"v":6485.8,"s":"MMT"},{"t":404.5,"v":6484.8,"s":"MMT"},{"t":410.3,"v":6484.8,"s":"MMT"},{"t":414.2,"v":6484.2,"s":"MMT"},{"t":418.1,"v":6483,"s":"MMT"},{"t":422.1,"v":6481.2,"s":"MMT"},{"t":426,"v":6479.2,"s":"MMT"},{"t":429.9,"v":6477.7,"s":"MMT"},{"t":433.8,"v":6476.5,"s":"MMT"},{"t":437.7,"v":6474.1,"s":"MMT"},{"t":441.6,"v":6471.4,"s":"MMT"},{"t":445.5,"v":6470,"s":"MMT"},{"t":449.4,"v":6470.8,"s":"MMT"},{"t":455.2,"v":6476.5,"s":"MMT"},{"t":461.1,"v":6479.8,"s":"MMT"},{"t":464,"v":6481.5,"s":"MMT"},{"t":467,"v":6481.5,"s":"MMT"},{"t":472.8,"v":6478.1,"s":"MMT"},{"t":482.6,"v":6472.5,"s":"MMT"},{"t":490.4,"v":6467.5,"s":"MMT"},{"t":494.3,"v":6465.2,"s":"MMT"},{"t":498.3,"v":6464.1,"s":"MMT"},{"t":502.2,"v":6464,"s":"MMT"},{"t":506.1,"v":6463.6,"s":"MMT"},{"t":510,"v":6461.9,"s":"MMT"},{"t":512,"v":6461.6,"s":"MMT"},{"t":515.9,"v":6466.4,"s":"MMT"},{"t":519.8,"v":6468.9,"s":"MMT"},{"t":523.7,"v":6468.6,"s":"MMT"},{"t":527.6,"v":6467.5,"s":"MMT"},{"t":531.5,"v":6466.4,"s":"MMT"},{"t":537.4,"v":6465.8,"s":"MMT"},{"t":541.3,"v":6465,"s":"MMT"},{"t":544.2,"v":6464.1,"s":"MMT"}
],
"fib": [
{"v":6519.08,"lab":"6519.08\u00a0 (100.0%)"},
{"v":6495.52,"lab":"6495.52\u00a0 (78.6%)"},
{"v":6477.02,"lab":"6477.02\u00a0 (61.8%)"},
{"v":6464.03,"lab":"6464.03\u00a0 (50.0%)"},
{"v":6451.04,"lab":"6451.04\u00a0 (38.2%)"},
{"v":6434.96,"lab":"6434.96\u00a0 (23.6%)"},
{"v":6408.98,"lab":"6408.98\u00a0 (0.0%)"}
],
"marks": [
{"v":6504.86,"lab":"6504.86","k":"g"},
{"v":6456.78,"lab":"6456.78","k":"k"}
],
"boxes": [
{"v":6520,"lab":"6 520"},
{"v":6455,"lab":"6 455"},
{"v":6409,"lab":"6 409"}
]
},
"layer": [
{"data": {"name": "candles"},
 "mark": {"type": "rule", "color": "#505050", "strokeWidth": 1},
 "encoding": {
  "x": {"field": "t", "type": "quantitative",
        "scale": {"domain": [-2.6, 546.8], "nice": false, "zero": false, "padding": 0},
        "axis": {"values": [46,92,138,184,230,276,322,368,414,460,506],
                 "labelExpr": "timeFormat(datetime(2024, 0, 1, 9, datum.value), '%H:%M')",
                 "grid": true, "gridColor": "#cdcdcd", "gridWidth": 1.5,
                 "domain": false, "ticks": false, "labelPadding": 6,
                 "labelColor": "#6a6a6a", "labelFontSize": 12, "labelFont": "Roboto"}},
  "y": {"field": "l", "type": "quantitative",
        "scale": {"domain": [6407.44, 6522.47], "nice": false, "zero": false, "padding": 0},
        "axis": {"orient": "right",
                 "values": [6408,6411,6414,6417,6420,6423,6426,6429,6432,6435,6438,6441,6444,6447,6450,6453,6456,6459,6462,6465,6468,6471,6474,6477,6480,6483,6486,6489,6492,6495,6498,6501,6504,6507,6510,6513,6516,6519,6522],
                 "labelExpr": "replace(format(datum.value, ',d'), ',', ' ')",
                 "grid": true, "gridColor": "#d9d9d9", "gridWidth": 1,
                 "domain": false, "ticks": false, "labelPadding": 6, "labelOffset": -2,
                 "labelColor": "#777777", "labelFontSize": 12, "labelFont": "Roboto"}},
  "y2": {"field": "h"}
 }},
{"data": {"name": "candles"},
 "mark": {"type": "bar", "width": 2.6},
 "encoding": {
  "x": {"field": "t", "type": "quantitative", "scale": {"domain": [-2.6, 546.8], "nice": false, "zero": false, "padding": 0}},
  "y": {"field": "o", "type": "quantitative"},
  "y2": {"field": "c"},
  "color": {"condition": {"test": "datum.c >= datum.o", "value": "#37845a"}, "value": "#dc4b4b"}
 }},
{"data": {"name": "band"},
 "transform": [{"filter": "datum.seg == 'd'"}],
 "mark": {"type": "area", "color": "#4caf50", "opacity": 0.3},
 "encoding": {
  "x": {"field": "t", "type": "quantitative"},
  "y": {"field": "up", "type": "quantitative"},
  "y2": {"field": "lo"}
 }},
{"data": {"name": "band"},
 "transform": [{"filter": "datum.seg != 'd'"}],
 "mark": {"type": "area", "color": "#5cbf5c", "opacity": 0.2},
 "encoding": {
  "x": {"field": "t", "type": "quantitative"},
  "y": {"field": "up", "type": "quantitative"},
  "y2": {"field": "lo"},
  "detail": {"field": "seg"}
 }},
{"data": {"name": "band"},
 "mark": {"type": "line", "color": "#4caa4c", "strokeWidth": 1.2},
 "encoding": {
  "x": {"field": "t", "type": "quantitative"},
  "y": {"field": "up", "type": "quantitative"}
 }},
{"data": {"name": "band"},
 "mark": {"type": "line", "color": "#4caa4c", "strokeWidth": 1.2},
 "encoding": {
  "x": {"field": "t", "type": "quantitative"},
  "y": {"field": "lo", "type": "quantitative"}
 }},
{"data": {"name": "ma"},
 "mark": {"type": "line", "color": "#1f6fae", "strokeWidth": 1.3, "interpolate": "monotone"},
 "encoding": {
  "x": {"field": "t", "type": "quantitative"},
  "y": {"field": "v", "type": "quantitative"},
  "detail": {"field": "s"}
 }},
{"data": {"name": "fib"},
 "mark": {"type": "rule", "color": "#111111", "strokeWidth": 1},
 "encoding": {
  "x": {"datum": 25.9, "type": "quantitative"},
  "x2": {"datum": 539.2},
  "y": {"field": "v", "type": "quantitative"}
 }},
{"data": {"name": "fib"},
 "mark": {"type": "text", "align": "left", "baseline": "bottom", "dy": -1, "fontSize": 12, "color": "#151515", "font": "Roboto"},
 "encoding": {
  "x": {"datum": 25.9, "type": "quantitative"},
  "y": {"field": "v", "type": "quantitative"},
  "text": {"field": "lab"}
 }},
{"data": {"values": [{}]},
 "mark": {"type": "rule", "color": "#111111", "strokeWidth": 1},
 "encoding": {
  "x": {"datum": 122.2, "type": "quantitative"},
  "x2": {"datum": 517.9},
  "y": {"datum": 6423.76, "type": "quantitative"},
  "y2": {"datum": 6448.7}
 }},
{"data": {"values": [{}]},
 "mark": {"type": "point", "shape": "triangle-down", "filled": true, "size": 55, "color": "#000000", "opacity": 1},
 "encoding": {
  "x": {"datum": 518, "type": "quantitative"},
  "y": {"datum": 6449.0, "type": "quantitative"}
 }},
{"data": {"values": [{}]},
 "mark": {"type": "rule", "color": "#e02020", "strokeWidth": 1.2, "strokeDash": [4, 3]},
 "encoding": {
  "x": {"datum": 514.2, "type": "quantitative"},
  "x2": {"datum": 544.6},
  "y": {"datum": 6449.4, "type": "quantitative"}
 }},
{"data": {"name": "marks"},
 "mark": {"type": "rule", "strokeWidth": 1},
 "encoding": {
  "x": {"datum": 514.2, "type": "quantitative"},
  "x2": {"datum": 546.8},
  "y": {"field": "v", "type": "quantitative"},
  "color": {"condition": {"test": "datum.k == 'g'", "value": "#2e9b2e"}, "value": "#111111"}
 }},
{"data": {"name": "marks"},
 "mark": {"type": "text", "align": "right", "baseline": "bottom", "dy": -1, "fontSize": 12, "font": "Roboto"},
 "encoding": {
  "x": {"datum": 546.3, "type": "quantitative"},
  "y": {"field": "v", "type": "quantitative"},
  "text": {"field": "lab"},
  "color": {"condition": {"test": "datum.k == 'g'", "value": "#2e9b2e"}, "value": "#111111"}
 }},
{"data": {"name": "boxes"},
 "mark": {"type": "bar", "orient": "horizontal", "height": 16, "clip": false},
 "encoding": {
  "x": {"datum": 548.1, "type": "quantitative"},
  "x2": {"datum": 576},
  "y": {"field": "v", "type": "quantitative", "scale": {"domain": [6407.44, 6522.47], "nice": false, "zero": false, "padding": 0}},
  "color": {"condition": [{"test": "datum.v > 6500", "value": "#008000"}, {"test": "datum.v < 6420", "value": "#c20000"}], "value": "#2f6ef0"}
 }},
{"data": {"name": "boxes"},
 "mark": {"type": "text", "align": "left", "baseline": "middle", "fontSize": 12.5, "color": "#ffffff", "font": "Roboto", "clip": false},
 "encoding": {
  "x": {"datum": 550.0, "type": "quantitative"},
  "y": {"field": "v", "type": "quantitative"},
  "text": {"field": "lab"}
 }},
{"data": {"values": [{}]},
 "mark": {"type": "text", "text": "CAC 40 - abcbourse.com", "align": "left", "baseline": "middle", "fontSize": 12.5, "color": "#8a8a8a", "font": "Roboto", "clip": false},
 "encoding": {"x": {"datum": -2.6, "type": "quantitative"}, "y": {"datum": 6523.33, "type": "quantitative"}}},
{"data": {"values": [{}]},
 "mark": {"type": "text", "text": "2 JOURS - 2 MINUTES", "align": "right", "baseline": "middle", "fontSize": 12.5, "color": "#8a8a8a", "font": "Roboto", "clip": false},
 "encoding": {"x": {"datum": 546.8, "type": "quantitative"}, "y": {"datum": 6523.33, "type": "quantitative"}}},
{"data": {"values": [{}]},
 "mark": {"type": "text", "text": "MME (30)", "align": "left", "baseline": "middle", "fontSize": 12.5, "color": "#1c6fd2", "font": "Roboto"},
 "encoding": {"x": {"datum": 0.1, "type": "quantitative"}, "y": {"datum": 6521.9, "type": "quantitative"}}},
{"data": {"values": [{}]},
 "mark": {"type": "text", "text": "PIVOTS", "align": "left", "baseline": "middle", "fontSize": 12.5, "color": "#555555", "font": "Roboto"},
 "encoding": {"x": {"datum": 40, "type": "quantitative"}, "y": {"datum": 6521.9, "type": "quantitative"}}},
{"data": {"values": [{}]},
 "mark": {"type": "text", "text": "MMT (20)", "align": "left", "baseline": "middle", "fontSize": 12.5, "color": "#1c6fd2", "font": "Roboto"},
 "encoding": {"x": {"datum": 72.8, "type": "quantitative"}, "y": {"datum": 6521.9, "type": "quantitative"}}},
{"data": {"values": [{}]},
 "mark": {"type": "text", "text": "KELTNER (20, 2)", "align": "left", "baseline": "middle", "fontSize": 12.5, "color": "#3a9e3a", "font": "Roboto"},
 "encoding": {"x": {"datum": 112.1, "type": "quantitative"}, "y": {"datum": 6521.9, "type": "quantitative"}}}
]
}
